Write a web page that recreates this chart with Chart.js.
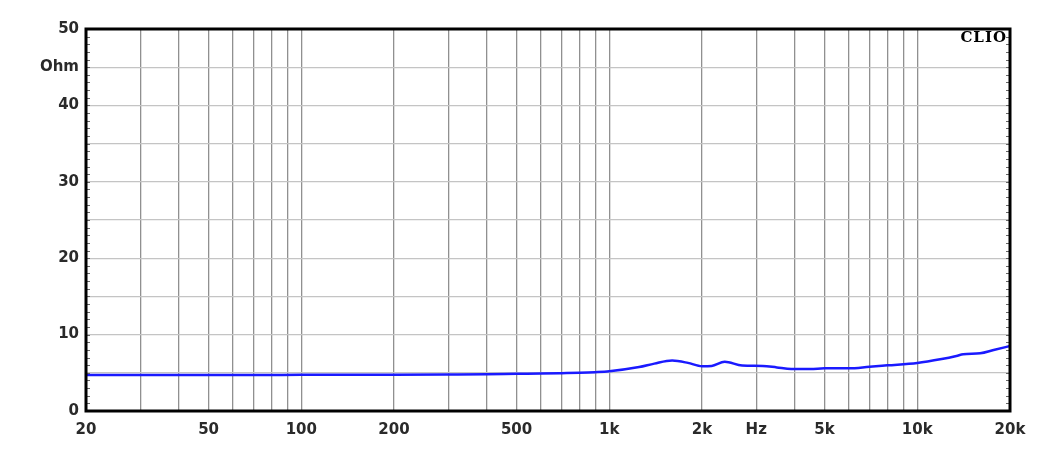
<!DOCTYPE html>
<html>
<head>
<meta charset="utf-8">
<script src="https://cdn.jsdelivr.net/npm/chart.js@4.4.1/dist/chart.umd.min.js"></script>
<style>
  html, body { margin: 0; padding: 0; background: #fff; }
  #wrap { width: 1057px; height: 461px; }
</style>
</head>
<body>
<div id="wrap"><canvas id="chart" width="1057" height="461"></canvas></div>
<script>
// impedance curve
const freqHz = [20, 50, 100, 200, 300, 400, 500, 600, 700, 800, 900, 1000, 1250, 1400, 1600, 1800, 2000, 2150, 2370, 2700, 3150, 3500, 3900, 4500, 5000, 6000, 7000, 8000, 10000, 12000, 13400, 14100, 16000, 17700, 20000];
const ohms = [4.72, 4.72, 4.73, 4.74, 4.77, 4.8, 4.86, 4.9, 4.95, 5.0, 5.08, 5.2, 5.75, 6.2, 6.6, 6.3, 5.85, 5.9, 6.45, 5.95, 5.9, 5.7, 5.5, 5.5, 5.58, 5.58, 5.8, 5.98, 6.28, 6.8, 7.2, 7.42, 7.55, 7.98, 8.5];

// x grid lines and their labels
const xGrid = [20, 30, 40, 50, 60, 70, 80, 90, 100, 200, 300, 400, 500, 600, 700, 800, 900, 1000, 2000, 3000, 4000, 5000, 6000, 7000, 8000, 9000, 10000, 20000];
const xLabels = { 20: '20', 50: '50', 100: '100', 200: '200', 500: '500', 1000: '1k', 2000: '2k', 3000: 'Hz', 5000: '5k', 10000: '10k', 20000: '20k' };
const yLabels = { 0: '0', 10: '10', 20: '20', 30: '30', 40: '40', 45: 'Ohm', 50: '50' };

const labelFont = { family: 'DejaVu Sans, Verdana, sans-serif', size: 15, weight: '600' };

// small minor ticks every 1 Ohm on both sides, the frame and the CLIO tag
const decorPlugin = {
  id: 'decor',
  afterDraw(chart) {
    const { ctx, chartArea: a, scales: { y } } = chart;
    ctx.save();
    ctx.strokeStyle = '#666';
    ctx.lineWidth = 1;
    for (let v = 0; v <= 50; v++) {
      const py = Math.round(y.getPixelForValue(v)) + 0.5;
      ctx.beginPath();
      ctx.moveTo(a.left, py); ctx.lineTo(a.left + 4, py);
      ctx.moveTo(a.right, py); ctx.lineTo(a.right - 4, py);
      ctx.stroke();
    }
    ctx.strokeStyle = '#000';
    ctx.lineWidth = 3;
    ctx.strokeRect(a.left, a.top, a.right - a.left, a.bottom - a.top);
    ctx.fillStyle = '#000';
    ctx.font = 'bold 15px "DejaVu Serif", "Liberation Serif", serif';
    ctx.letterSpacing = '1px';
    ctx.textAlign = 'right';
    ctx.textBaseline = 'alphabetic';
    ctx.fillText('CLIO', a.right - 3, a.top + 13);
    ctx.restore();
  }
};

const ctx = document.getElementById('chart').getContext('2d');
new Chart(ctx, {
  type: 'line',
  data: {
    datasets: [{
      data: freqHz.map((f, i) => ({ x: f, y: ohms[i] })),
      borderColor: '#1a1aff',
      borderWidth: 2.5,
      pointRadius: 0,
      fill: false,
      cubicInterpolationMode: 'monotone',
    }]
  },
  options: {
    responsive: false,
    animation: false,
    layout: { padding: { top: 29, right: 47, left: 0, bottom: 0 } },
    plugins: { legend: { display: false }, tooltip: { enabled: false } },
    scales: {
      x: {
        type: 'logarithmic',
        min: 20,
        max: 20000,
        afterBuildTicks: (scale) => { scale.ticks = xGrid.map(v => ({ value: v })); },
        afterFit: (scale) => { scale.height = 50; },
        grid: { color: '#909090', lineWidth: 1.3, drawTicks: false },
        border: { display: false },
        ticks: {
          autoSkip: false,
          maxRotation: 0,
          padding: 10,
          color: '#2a2a2a',
          font: labelFont,
          callback: (v) => xLabels[v] || '',
        }
      },
      y: {
        min: 0,
        max: 50,
        afterBuildTicks: (scale) => {
          const t = [];
          for (let v = 0; v <= 50; v += 5) t.push({ value: v });
          scale.ticks = t;
        },
        afterFit: (scale) => { scale.width = 86; },
        grid: { color: '#c4c4c4', lineWidth: 1.3, drawTicks: false },
        border: { display: false },
        ticks: {
          padding: 7,
          color: '#2a2a2a',
          font: labelFont,
          callback: (v) => yLabels[v] || '',
        }
      }
    }
  },
  plugins: [decorPlugin]
});
</script>
</body>
</html>
